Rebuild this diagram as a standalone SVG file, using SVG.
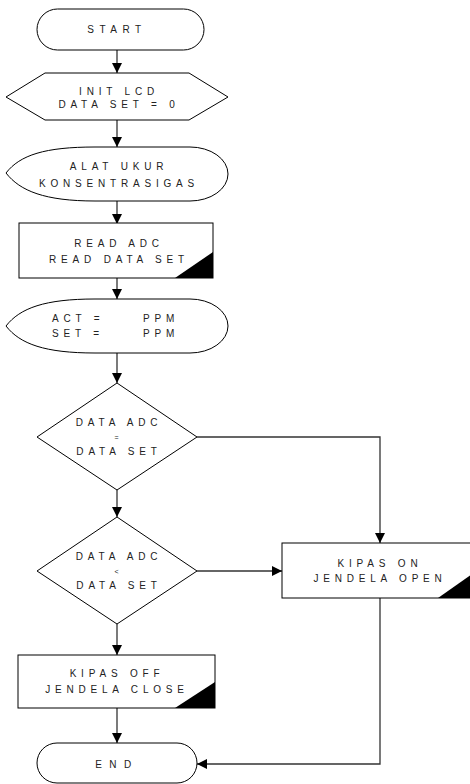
<svg xmlns="http://www.w3.org/2000/svg" width="470" height="784" viewBox="0 0 470 784">
<defs>
<style>
.s{fill:#fff;stroke:#000;stroke-width:1}
.t{font-family:"Liberation Sans",Arial,sans-serif;font-size:10px;fill:#222;letter-spacing:4.8px;text-anchor:middle}
.ts{font-family:"Liberation Sans",Arial,sans-serif;font-size:10px;fill:#222;letter-spacing:4.8px}
.c{fill:none;stroke:#333;stroke-width:1.3}
.k{fill:#000}
</style>
<marker id="ah" viewBox="0 0 10 10" refX="10" refY="5" markerWidth="10" markerHeight="10" markerUnits="userSpaceOnUse" orient="auto">
<path d="M0,0 L10,5 L0,10 Z" fill="#000"/>
</marker>
</defs>
<rect width="470" height="784" fill="#fff"/>
<g id="connectors">
<path class="c" d="M117,50 V73" marker-end="url(#ah)"/>
<path class="c" d="M117,120 V147" marker-end="url(#ah)"/>
<path class="c" d="M117,201 V224" marker-end="url(#ah)"/>
<path class="c" d="M117,278 V299" marker-end="url(#ah)"/>
<path class="c" d="M117,353 V383" marker-end="url(#ah)"/>
<path class="c" d="M117,490 V517" marker-end="url(#ah)"/>
<path class="c" d="M117,624 V655" marker-end="url(#ah)"/>
<path class="c" d="M117,708 V743" marker-end="url(#ah)"/>
<path class="c" d="M197,437 H380 V543" marker-end="url(#ah)"/>
<path class="c" d="M197,571 H282" marker-end="url(#ah)"/>
<path class="c" d="M380,598 V764 H197" marker-end="url(#ah)"/>
</g>
<g id="start">
<rect class="s" x="37" y="9" width="167" height="41" rx="20.5"/>
<text class="t" x="117" y="33" style="letter-spacing:5.5px">START</text>
</g>
<g id="init">
<polygon class="s" points="45,73 189,73 228,97 189,120 45,120 6,97"/>
<text class="t" x="119" y="95">INIT LCD</text>
<text class="t" x="119" y="108">DATA SET = 0</text>
</g>
<g id="alat">
<path class="s" d="M6,173 C20,155 45,147 95,147 L190,147 A38 27 0 0 1 190,201 L95,201 C45,201 20,191 6,173 Z"/>
<text class="t" x="119" y="170">ALAT UKUR</text>
<text class="t" x="119" y="187">KONSENTRASIGAS</text>
</g>
<g id="read">
<rect class="s" x="19" y="223" width="194" height="55"/>
<polygon class="k" points="175,278 213,278 213,252"/>
<text class="t" x="119" y="247">READ ADC</text>
<text class="t" x="119" y="263">READ DATA SET</text>
</g>
<g id="display">
<path class="s" d="M6,326 C20,308 45,299 95,299 L190,299 A38 27 0 0 1 190,353 L95,353 C45,353 20,344 6,326 Z"/>
<text class="ts" x="52" y="322">ACT =</text>
<text class="ts" x="52" y="337">SET =</text>
<text class="ts" x="143" y="322">PPM</text>
<text class="ts" x="143" y="337">PPM</text>
</g>
<g id="cond1">
<polygon class="s" points="117,383 197,437 117,490 37,437"/>
<text class="t" x="119" y="426">DATA ADC</text>
<text class="t" x="119" y="440" style="font-size:7px">=</text>
<text class="t" x="119" y="455">DATA SET</text>
</g>
<g id="cond2">
<polygon class="s" points="117,517 197,571 117,624 37,571"/>
<text class="t" x="119" y="560">DATA ADC</text>
<text class="t" x="119" y="574" style="font-size:7px">&lt;</text>
<text class="t" x="119" y="589">DATA SET</text>
</g>
<g id="kipas-on">
<rect class="s" x="282" y="543" width="196" height="55"/>
<polygon class="k" points="438,598 478,598 478,570"/>
<text class="t" x="380" y="567">KIPAS ON</text>
<text class="t" x="380" y="582">JENDELA OPEN</text>
</g>
<g id="kipas-off">
<rect class="s" x="18" y="655" width="197" height="53"/>
<polygon class="k" points="175,708 215,708 215,682"/>
<text class="t" x="117" y="677">KIPAS OFF</text>
<text class="t" x="117" y="693">JENDELA CLOSE</text>
</g>
<g id="end">
<rect class="s" x="37" y="743" width="160" height="40" rx="20"/>
<text class="t" x="117" y="768" style="letter-spacing:7.5px">END</text>
</g>
</svg>
